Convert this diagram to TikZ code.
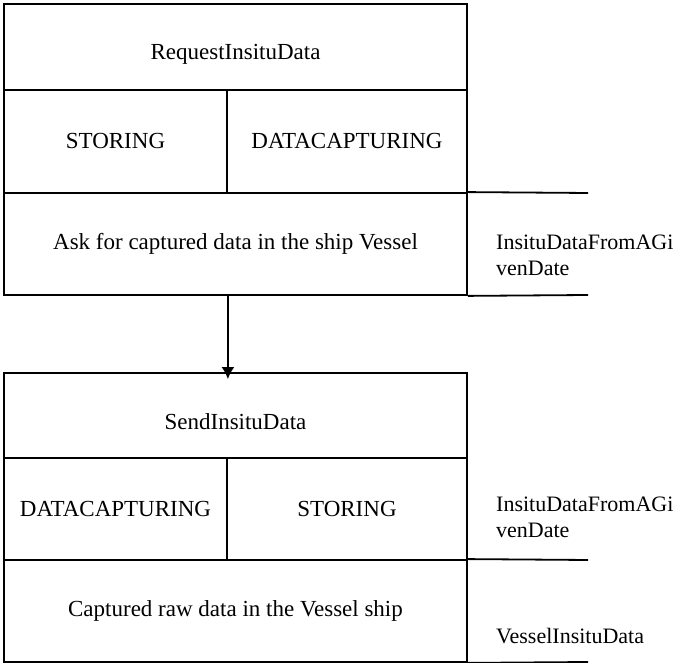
\documentclass[tikz,border=0pt]{standalone}
\usepackage{fontspec}
\setmainfont{Liberation Serif}
\usetikzlibrary{arrows.meta}

\tikzset{
  cell/.style={draw, line width=1.8pt, inner sep=0pt, align=center},
  titlecell/.style={cell, text height=29pt},
  side/.style={anchor=west, inner sep=0pt, align=left, font=\fontsize{22}{26}\selectfont},
  msgline/.style={draw, line width=1.8pt}
}

\begin{document}
\begin{tikzpicture}[x=1pt, y=1pt, font=\fontsize{23}{26}\selectfont]
    % Marco de la figura
    \useasboundingbox (0,0) rectangle (680,663);

    % Caja de la peticion
    \node[titlecell, minimum width=463pt, minimum height=86pt] (req) at (235.5,616) {RequestInsituData};
    \node[cell, minimum width=223pt, minimum height=103pt] (reqst) at (115.5,521.5) {STORING};
    \node[cell, minimum width=240pt, minimum height=103pt] (reqdc) at (347,521.5) {DATACAPTURING};
    \node[cell, minimum width=463pt, minimum height=102pt] (reqtxt) at (235.5,419) {Ask for captured data in the ship Vessel};

    % Lineas del mensaje de la peticion
    \coordinate (reqa) at (588,470);
    \coordinate (reqb) at (588,368);
    \draw[msgline] (reqtxt.north east) -- (reqa);
    \draw[msgline] (reqtxt.south east) -- (reqb);
    \node[side] (reqmsg) at (496,408) {InsituDataFromAGi\\venDate};

    % Caja del envio
    \node[titlecell, minimum width=463pt, minimum height=85pt] (snd) at (235.5,247.5) {SendInsituData};
    \node[cell, minimum width=223pt, minimum height=102pt] (snddc) at (115.5,154) {DATACAPTURING};
    \node[cell, minimum width=240pt, minimum height=102pt] (sndst) at (347,154) {STORING};
    \node[cell, minimum width=463pt, minimum height=102pt] (sndtxt) at (235.5,52) {Captured raw data in the Vessel ship};

    % Lineas del mensaje del envio
    \coordinate (snda) at (588,103);
    \coordinate (sndb) at (588,1);
    \draw[msgline] (sndtxt.north east) -- (snda);
    \draw[msgline] (sndtxt.south east) -- (sndb);
    \node[side] (sndmsg) at (496,146) {InsituDataFromAGi\\venDate};
    \node[side] (sndout) at (496,27) {VesselInsituData};

    % Flecha entre las cajas
    \draw[msgline, -{Latex[length=12pt,width=13pt]}, shorten >=-7pt] (reqst.south east |- reqtxt.south) -- (reqst.south east |- snd.north);
\end{tikzpicture}
\end{document}
